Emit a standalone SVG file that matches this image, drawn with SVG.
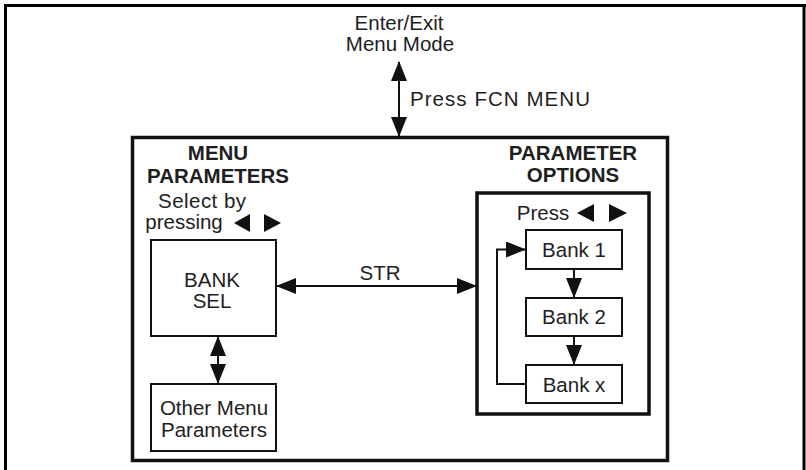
<svg xmlns="http://www.w3.org/2000/svg" width="806" height="470" viewBox="0 0 806 470">
<style>
  text { font-family: "Liberation Sans", Arial, sans-serif; font-size: 20.5px; fill: #1e1e1e; text-anchor: middle; }
  .b { font-weight: bold; }
  .thick { fill: none; stroke: #111; stroke-width: 3.5; }
  .thin { fill: #fff; stroke: #111; stroke-width: 2; }
  .frame { fill: none; stroke: #000; stroke-width: 3; }
  .con { fill: none; stroke: #111; stroke-width: 2; }
  .tri { fill: #111; }
</style>
<defs>
  <marker id="ah" markerUnits="userSpaceOnUse" markerWidth="20" markerHeight="16" refX="19" refY="8" orient="auto-start-reverse">
    <path d="M0,0 L20,8 L0,16 z" fill="#111"/>
  </marker>
</defs>

<g id="page-frame">
  <path class="frame" d="M5.5,470 V5.5 H806"/>
  <path class="frame" d="M804,5.5 V470"/>
</g>

<g id="enter-exit">
  <text x="399" y="30">Enter/Exit</text>
  <text x="400" y="51">Menu Mode</text>
</g>

<g id="menu-system">
  <rect class="thick" x="132.5" y="137.5" width="535" height="323"/>
</g>

<g id="menu-parameters-heading">
  <text class="b" x="218" y="160">MENU</text>
  <text class="b" x="218" y="183">PARAMETERS</text>
  <text x="202" y="208" textLength="88">Select by</text>
  <text x="184" y="229">pressing</text>
  <polygon class="tri" points="250,214 250,232 234,223"/>
  <polygon class="tri" points="264,214 264,232 281,223"/>
</g>

<g id="bank-sel">
  <rect class="thin" x="151" y="240" width="125" height="96"/>
  <text x="212" y="287">BANK</text>
  <text x="212" y="308">SEL</text>
</g>

<g id="other-menu">
  <rect class="thin" x="151" y="384" width="125" height="67"/>
  <text x="214" y="415">Other Menu</text>
  <text x="214" y="437">Parameters</text>
</g>

<g id="parameter-options">
  <text class="b" x="573" y="160">PARAMETER</text>
  <text class="b" x="573" y="182">OPTIONS</text>
  <rect class="thick" x="477" y="193" width="172" height="221"/>
  <text x="543" y="220">Press</text>
  <polygon class="tri" points="594,204 594,222 577,213"/>
  <polygon class="tri" points="609,204 609,222 627,213"/>
</g>

<g id="bank-1">
  <rect class="thin" x="526" y="230" width="96" height="39"/>
  <text x="574" y="257">Bank 1</text>
</g>
<g id="bank-2">
  <rect class="thin" x="526" y="298" width="96" height="38"/>
  <text x="574" y="324">Bank 2</text>
</g>
<g id="bank-x">
  <rect class="thin" x="526" y="365" width="96" height="38"/>
  <text x="574" y="392">Bank x</text>
</g>

<g id="connectors">
  <line class="con" x1="399" y1="62" x2="399" y2="136" marker-start="url(#ah)" marker-end="url(#ah)"/>
  <text x="500" y="106" textLength="180">Press FCN MENU</text>
  <line class="con" x1="277" y1="286" x2="476" y2="286" marker-start="url(#ah)" marker-end="url(#ah)"/>
  <text x="380" y="280">STR</text>
  <line class="con" x1="218" y1="337" x2="218" y2="383" marker-start="url(#ah)" marker-end="url(#ah)"/>
  <line class="con" x1="574" y1="270" x2="574" y2="297" marker-end="url(#ah)"/>
  <line class="con" x1="574" y1="337" x2="574" y2="364" marker-end="url(#ah)"/>
  <polyline class="con" points="525,384 497,384 497,249.5 525,249.5" marker-end="url(#ah)"/>
</g>
</svg>
